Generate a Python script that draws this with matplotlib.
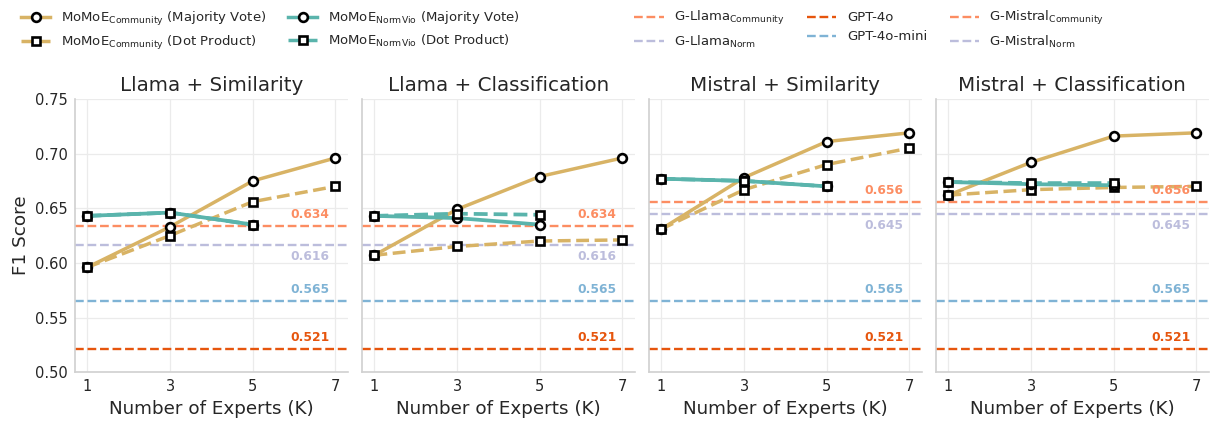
import matplotlib
matplotlib.use("Agg")
import matplotlib.pyplot as plt
from matplotlib.lines import Line2D

# ---- data -------------------------------------------------------------
k_all = [1, 3, 5, 7]
k_norm = [1, 3, 5]

titles = ["Llama + Similarity", "Llama + Classification",
          "Mistral + Similarity", "Mistral + Classification"]

community_mv = [
    [0.596, 0.633, 0.675, 0.696],
    [0.607, 0.649, 0.679, 0.696],
    [0.631, 0.678, 0.711, 0.719],
    [0.662, 0.692, 0.716, 0.719],
]
community_dp = [
    [0.596, 0.625, 0.656, 0.670],
    [0.607, 0.615, 0.620, 0.621],
    [0.631, 0.667, 0.690, 0.705],
    [0.662, 0.667, 0.669, 0.670],
]
normvio_mv = [
    [0.643, 0.646, 0.635],
    [0.643, 0.641, 0.635],
    [0.677, 0.675, 0.670],
    [0.674, 0.672, 0.671],
]
normvio_dp = [
    [0.643, 0.646, 0.635],
    [0.643, 0.645, 0.644],
    [0.677, 0.675, 0.670],
    [0.674, 0.673, 0.673],
]

gpt4o = 0.521
gpt4o_mini = 0.565
g_community = [0.634, 0.634, 0.656, 0.656]  # G-Llama / G-Mistral
g_norm = [0.616, 0.616, 0.645, 0.645]

# ---- style ------------------------------------------------------------
GOLD = "#d8b365"
TEAL = "#5ab4ac"
SALMON = "#fc8d62"
LAVENDER = "#bcbddc"
ORANGE = "#e6550d"
BLUE = "#7fb3d5"
TEXT = "#262626"

plt.rcParams["font.family"] = "DejaVu Sans"
plt.rcParams["text.color"] = TEXT
plt.rcParams["axes.labelcolor"] = TEXT
plt.rcParams["xtick.color"] = TEXT
plt.rcParams["ytick.color"] = TEXT

fig, axes = plt.subplots(1, 4, figsize=(12.1, 4.21), dpi=100, sharey=True)
fig.subplots_adjust(left=0.062, right=0.999, bottom=0.116, top=0.765, wspace=0.052)

mk = dict(markerfacecolor="white", markeredgecolor="black", markersize=6.3,
          markeredgewidth=1.9)


def baseline(ax, y, color, above=True):
    ax.axhline(y, color=color, linestyle="--", linewidth=1.7, zorder=1)
    off = 0.0105 if above else -0.0105
    ax.text(6.85, y + off, f"{y:.3f}", color=color, fontsize=8.8,
            fontweight="bold", ha="right", va="center", zorder=6)


for i, ax in enumerate(axes):
    baseline(ax, g_community[i], SALMON, above=True)
    baseline(ax, g_norm[i], LAVENDER, above=False)
    baseline(ax, gpt4o_mini, BLUE, above=True)
    baseline(ax, gpt4o, ORANGE, above=True)

    ax.plot(k_all, community_mv[i], "-", color=GOLD, linewidth=2.5, marker="o", zorder=3, **mk)
    ax.plot(k_all, community_dp[i], "--", color=GOLD, linewidth=2.5, marker="s", zorder=3, **mk)
    ax.plot(k_norm, normvio_mv[i], "-", color=TEAL, linewidth=2.7, marker="o", zorder=4, **mk)
    ax.plot(k_norm, normvio_dp[i], "--", color=TEAL, linewidth=2.7, marker="s", zorder=4, **mk)

    ax.set_title(titles[i], fontsize=14.3, pad=6)
    ax.set_xlabel("Number of Experts (K)", fontsize=13.2)
    ax.set_xticks(k_all)
    ax.set_ylim(0.50, 0.75)
    ax.set_yticks([0.50, 0.55, 0.60, 0.65, 0.70, 0.75])
    ax.yaxis.set_major_formatter(matplotlib.ticker.FormatStrFormatter("%.2f"))
    ax.tick_params(labelsize=10.5, length=0, pad=5)
    ax.grid(True, color="#ebebeb", linewidth=0.9, zorder=0)
    ax.set_axisbelow(True)
    for side in ("top", "right"):
        ax.spines[side].set_visible(False)
    for side in ("left", "bottom"):
        ax.spines[side].set_color("#d0d0d0")
        ax.spines[side].set_linewidth(1.2)

axes[0].set_ylabel("F1 Score", fontsize=13.2)

# ---- legends ------------------------------------------------------------
def model_handle(color, ls, marker):
    return Line2D([], [], color=color, linestyle=ls, linewidth=2.5, marker=marker, **mk)


def base_handle(color):
    return Line2D([], [], color=color, linestyle="--", linewidth=1.7)


h1 = [model_handle(GOLD, "-", "o"), model_handle(GOLD, "--", "s"),
      model_handle(TEAL, "-", "o"), model_handle(TEAL, "--", "s")]
l1 = [r"MoMoE$_{\mathrm{Community}}$ (Majority Vote)",
      r"MoMoE$_{\mathrm{Community}}$ (Dot Product)",
      r"MoMoE$_{\mathrm{NormVio}}$ (Majority Vote)",
      r"MoMoE$_{\mathrm{NormVio}}$ (Dot Product)"]
h2 = [base_handle(SALMON), base_handle(LAVENDER), base_handle(ORANGE),
      base_handle(BLUE), base_handle(SALMON), base_handle(LAVENDER)]
l2 = [r"G-Llama$_{\mathrm{Community}}$", r"G-Llama$_{\mathrm{Norm}}$",
      "GPT-4o", "GPT-4o-mini",
      r"G-Mistral$_{\mathrm{Community}}$", r"G-Mistral$_{\mathrm{Norm}}$"]

leg_kw = dict(loc="upper left", frameon=False, fontsize=9.5, handlelength=2.2,
              columnspacing=1.7, labelspacing=0.45, borderaxespad=0.0)
fig.legend(h1, l1, ncol=2, bbox_to_anchor=(0.013, 0.99), **leg_kw)
fig.legend(h2, l2, ncol=3, bbox_to_anchor=(0.520, 0.99), **leg_kw)

fig.savefig("out.png", dpi=100)
